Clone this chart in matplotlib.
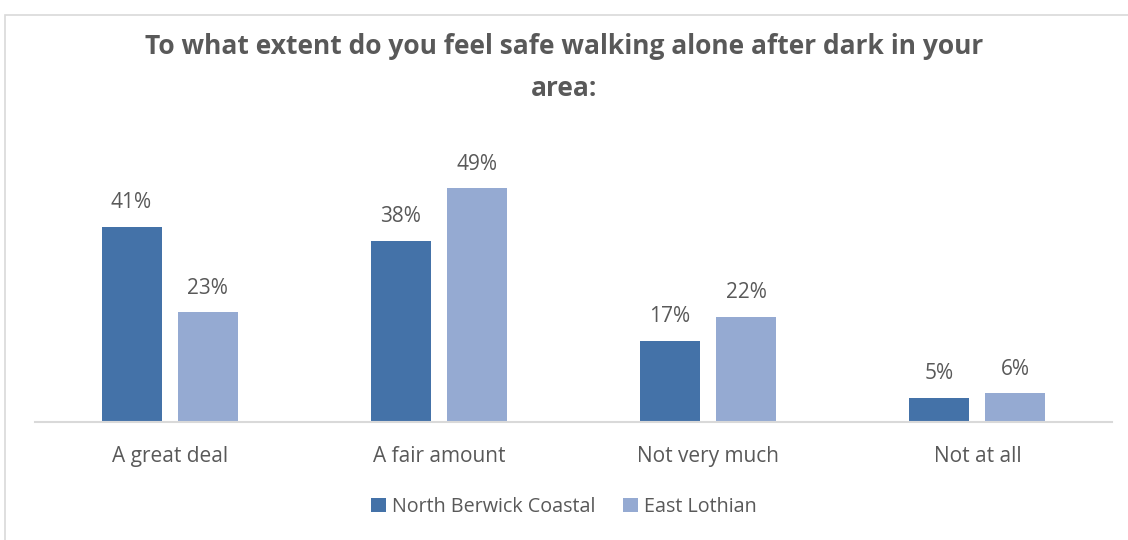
import numpy as np
import matplotlib.pyplot as plt
from matplotlib.patches import Rectangle

categories = ['A great deal', 'A fair amount', 'Not very much', 'Not at all']
north_berwick = [41, 38, 17, 5]
east_lothian = [23, 49, 22, 6]
series_names = ['North Berwick Coastal', 'East Lothian']

plt.rcParams['font.family'] = ['Open Sans', 'DejaVu Sans']
txt = '#595959'

fig = plt.figure(figsize=(11.28, 5.4), dpi=100)
ax = fig.add_axes([35 / 1128, (540 - 422) / 540, 1077 / 1128, 286 / 540])

x = np.arange(len(categories))
w = 0.223
off = 0.1415
b1 = ax.bar(x - off, north_berwick, w, color='#4472a8', label=series_names[0])
b2 = ax.bar(x + off, east_lothian, w, color='#95aad2', label=series_names[1])

for bars in (b1, b2):
    for r in bars:
        ax.text(r.get_x() + r.get_width() / 2, r.get_height() + 2.9,
                f'{int(r.get_height())}%', ha='center', va='bottom',
                fontsize=15, color=txt)

ax.set_xlim(-0.5, 3.5)
ax.set_ylim(0, 60)
ax.set_yticks([])
ax.set_xticks(x)
ax.set_xticklabels(categories, fontsize=15, color=txt)
ax.tick_params(axis='x', length=0, pad=17)
for s in ['top', 'right', 'left']:
    ax.spines[s].set_visible(False)
ax.spines['bottom'].set_color('#d9d9d9')
ax.spines['bottom'].set_linewidth(1.5)

fig.text(0.5, 1 - 46 / 540, 'To what extent do you feel safe walking alone after dark in your',
         ha='center', va='center', fontsize=19, fontweight='bold', color=txt)
fig.text(0.5, 1 - 88 / 540, 'area:',
         ha='center', va='center', fontsize=19, fontweight='bold', color=txt)

leg = fig.legend(handles=[b1, b2], loc='center', bbox_to_anchor=(0.5, 1 - 507 / 540),
                 ncol=2, frameon=False, fontsize=14.2, handlelength=0.75, handleheight=0.75,
                 handletextpad=0.3, columnspacing=1.4)
for t in leg.get_texts():
    t.set_color(txt)

# chart frame
fig.patches.append(Rectangle((5 / 1128, -0.01), 1.1, 1 - 15 / 540 + 0.01,
                             transform=fig.transFigure, fill=False,
                             edgecolor='#d9d9d9', linewidth=1.2))

fig.savefig('out.png', dpi=100)
